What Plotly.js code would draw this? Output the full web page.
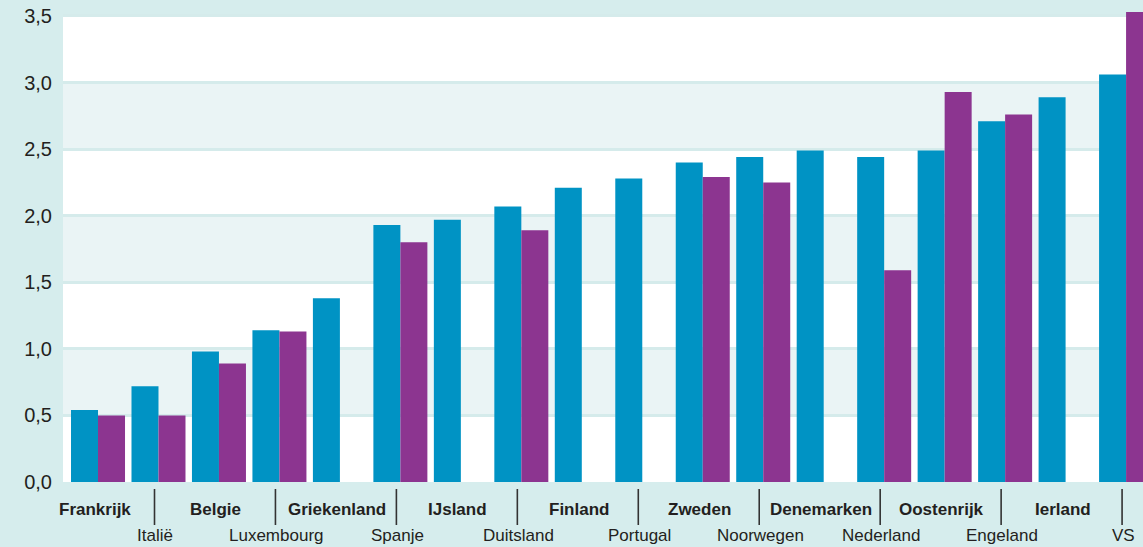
<!DOCTYPE html>
<html>
<head>
<meta charset="utf-8">
<script src="https://cdn.plot.ly/plotly-3.0.1.min.js"></script>
<style>html,body{margin:0;padding:0;background:#D6EDED;}#chart{width:1143px;height:547px;}</style>
</head>
<body>
<div id="chart"></div>
<script>
var categories = ['Frankrijk','Italië','Belgie','Luxembourg','Griekenland','Spanje','IJsland','Duitsland','Finland','Portugal','Zweden','Noorwegen','Denemarken','Nederland','Oostenrijk','Engeland','Ierland','VS'];
var seriesBlue = [0.54,0.72,0.98,1.14,1.38,1.93,1.97,2.07,2.21,2.28,2.40,2.44,2.49,2.44,2.49,2.71,2.89,3.06];
var seriesPurple = [0.50,0.50,0.89,1.13,null,1.80,null,1.89,null,null,2.29,2.25,null,1.59,2.93,2.76,null,3.53];
var yTicks = [0,0.5,1.0,1.5,2.0,2.5,3.0,3.5];
var bands = [[0.5,1.0],[1.5,2.0],[2.5,3.0]];
var yMax = 3.5, yTop = 3.56;

var traces = [
  {type:'bar', x:categories, y:seriesBlue, marker:{color:'#0093C4'}, hoverinfo:'none'},
  {type:'bar', x:categories, y:seriesPurple, marker:{color:'#8C3590'}, hoverinfo:'none'}
];

var shapes = [];
bands.forEach(function(b){
  shapes.push({type:'rect', xref:'paper', x0:0, x1:1, yref:'y', y0:b[0], y1:b[1],
    fillcolor:'#EAF4F5', line:{width:0}, layer:'below'});
});
// strip above the top tick has the page colour
shapes.push({type:'rect', xref:'paper', x0:0, x1:1, yref:'y', y0:yMax, y1:yTop,
  fillcolor:'#D6EDED', line:{width:0}, layer:'below'});

var annotations = [];
categories.forEach(function(c, i){
  var top = (i % 2 === 0);
  annotations.push({
    xref:'x', x:i, xshift:-3, yref:'paper', y: top ? -0.058 : -0.1134,
    yanchor:'middle', xanchor:'center', showarrow:false, text: top ? '<b>'+c+'</b>' : c,
    font:{family:'Liberation Sans, Arial, sans-serif', size:17, color:'#231F20'}
  });
  if (!top) {
    shapes.push({type:'line', xref:'x', x0:i-0.066, x1:i-0.066, yref:'paper', y0:-0.0148, y1:-0.0907,
      line:{color:'#333333', width:1.6}, layer:'above'});
  }
});

var layout = {
  width:1143, height:547,
  margin:{l:63, r:0, t:8, b:65},
  paper_bgcolor:'#D6EDED', plot_bgcolor:'#FFFFFF',
  separators:',.',
  barmode:'group', bargap:0.107, bargroupgap:0,
  showlegend:false,
  xaxis:{type:'category', range:[-0.579,17.28], showticklabels:false, showgrid:false, zeroline:false, ticks:'', showline:false, fixedrange:true},
  yaxis:{range:[0,yTop], tickvals:yTicks, tickformat:'.1f', showgrid:true, gridcolor:'#D5EBEB', gridwidth:3,
    zeroline:false, showline:false, ticks:'', ticklabelstandoff:10,
    tickfont:{family:'Liberation Sans, Arial, sans-serif', size:20, color:'#231F20'}, fixedrange:true},
  shapes:shapes,
  annotations:annotations
};
Plotly.newPlot('chart', traces, layout, {displayModeBar:false, staticPlot:true});
</script>
</body>
</html>
